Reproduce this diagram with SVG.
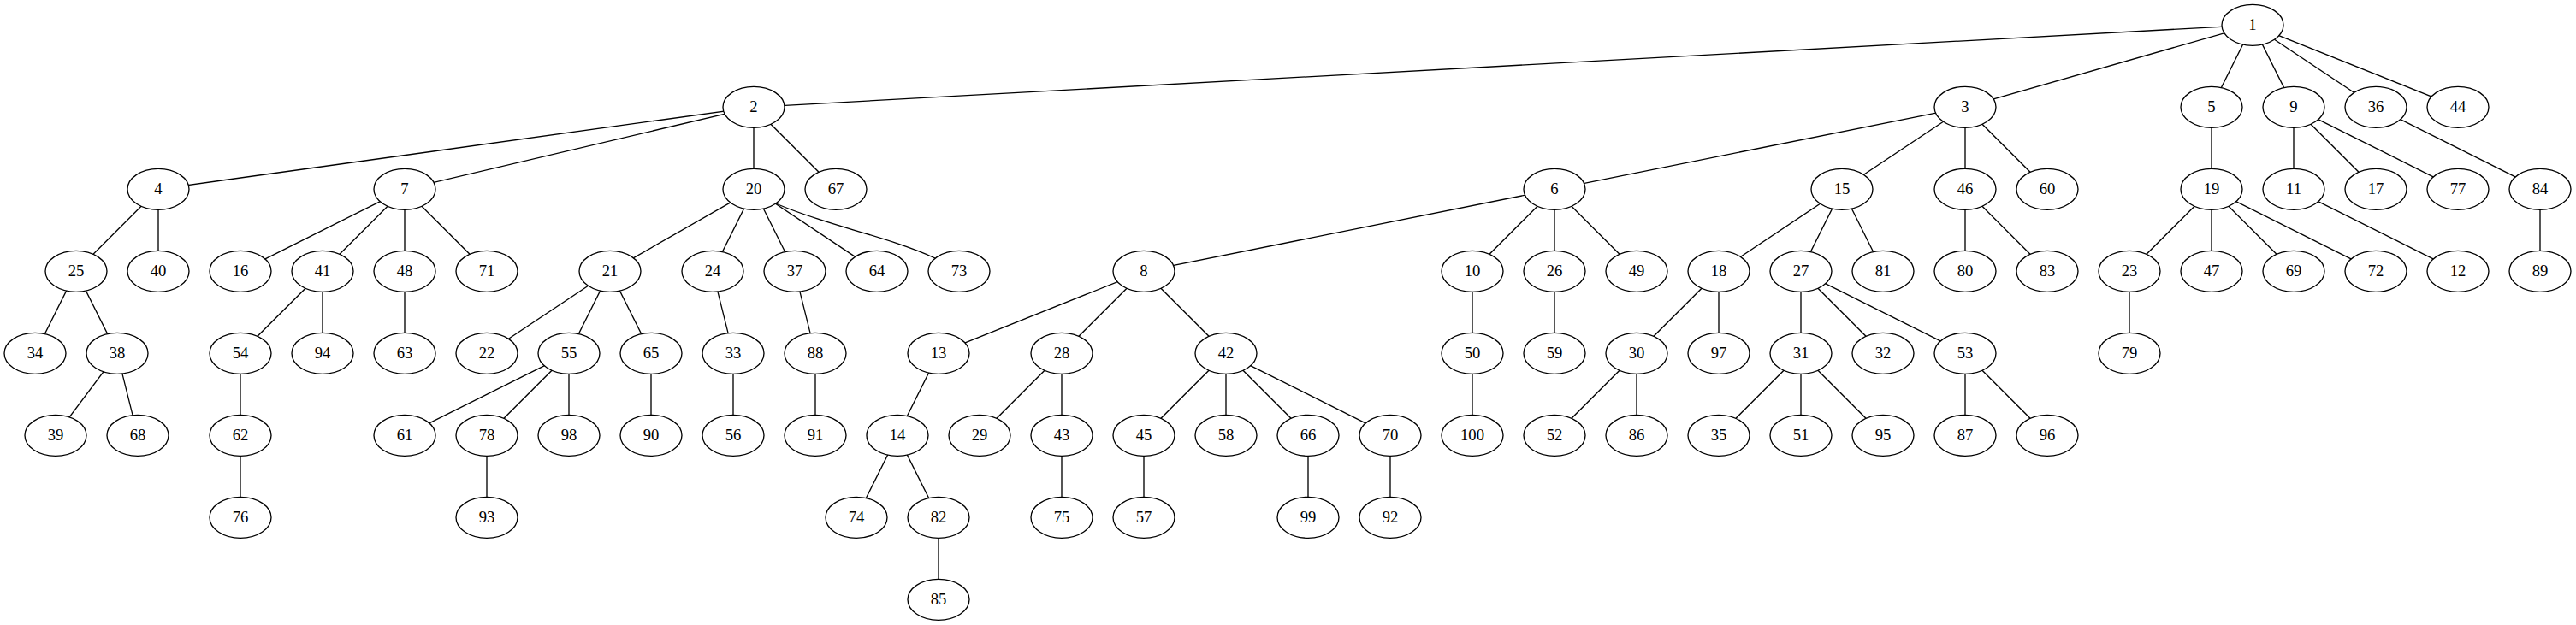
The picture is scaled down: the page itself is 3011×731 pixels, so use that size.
<svg xmlns="http://www.w3.org/2000/svg" width="3011" height="731" viewBox="0 0 3011 731">
<style>
.node ellipse{fill:#fff;stroke:#000;stroke-width:1.33}
.node text{font-family:"Liberation Serif","Times New Roman",serif;font-size:18.67px;text-anchor:middle;fill:#000}
#edges line,#edges path{stroke:#000;stroke-width:1.33;fill:none}
</style>
<rect width="3011" height="731" fill="#fff"/>
<g id="edges">
<line x1="2633" y1="29.3" x2="881" y2="125.3"/>
<line x1="2633" y1="29.3" x2="2297" y2="125.3"/>
<line x1="2633" y1="29.3" x2="2585" y2="125.3"/>
<line x1="2633" y1="29.3" x2="2681" y2="125.3"/>
<line x1="2633" y1="29.3" x2="2777" y2="125.3"/>
<line x1="2633" y1="29.3" x2="2873" y2="125.3"/>
<line x1="881" y1="125.3" x2="185" y2="221.3"/>
<line x1="881" y1="125.3" x2="473" y2="221.3"/>
<line x1="881" y1="125.3" x2="881" y2="221.3"/>
<line x1="881" y1="125.3" x2="977" y2="221.3"/>
<line x1="2297" y1="125.3" x2="1817" y2="221.3"/>
<line x1="2297" y1="125.3" x2="2153" y2="221.3"/>
<line x1="2297" y1="125.3" x2="2297" y2="221.3"/>
<line x1="2297" y1="125.3" x2="2393" y2="221.3"/>
<line x1="2585" y1="125.3" x2="2585" y2="221.3"/>
<line x1="2681" y1="125.3" x2="2681" y2="221.3"/>
<line x1="2681" y1="125.3" x2="2777" y2="221.3"/>
<line x1="2681" y1="125.3" x2="2873" y2="221.3"/>
<line x1="2777" y1="125.3" x2="2969" y2="221.3"/>
<line x1="185" y1="221.3" x2="89" y2="317.3"/>
<line x1="185" y1="221.3" x2="185" y2="317.3"/>
<line x1="473" y1="221.3" x2="281" y2="317.3"/>
<line x1="473" y1="221.3" x2="377" y2="317.3"/>
<line x1="473" y1="221.3" x2="473" y2="317.3"/>
<line x1="473" y1="221.3" x2="569" y2="317.3"/>
<line x1="881" y1="221.3" x2="713" y2="317.3"/>
<line x1="881" y1="221.3" x2="833" y2="317.3"/>
<line x1="881" y1="221.3" x2="929" y2="317.3"/>
<line x1="881" y1="221.3" x2="1025" y2="317.3"/>
<path d="M907,238 C960,262 1040,277 1093,302"/>
<line x1="1817" y1="221.3" x2="1337" y2="317.3"/>
<line x1="1817" y1="221.3" x2="1721" y2="317.3"/>
<line x1="1817" y1="221.3" x2="1817" y2="317.3"/>
<line x1="1817" y1="221.3" x2="1913" y2="317.3"/>
<line x1="2153" y1="221.3" x2="2009" y2="317.3"/>
<line x1="2153" y1="221.3" x2="2105" y2="317.3"/>
<line x1="2153" y1="221.3" x2="2201" y2="317.3"/>
<line x1="2297" y1="221.3" x2="2297" y2="317.3"/>
<line x1="2297" y1="221.3" x2="2393" y2="317.3"/>
<line x1="2585" y1="221.3" x2="2489" y2="317.3"/>
<line x1="2585" y1="221.3" x2="2585" y2="317.3"/>
<line x1="2585" y1="221.3" x2="2681" y2="317.3"/>
<line x1="2585" y1="221.3" x2="2777" y2="317.3"/>
<line x1="2681" y1="221.3" x2="2873" y2="317.3"/>
<line x1="2969" y1="221.3" x2="2969" y2="317.3"/>
<line x1="89" y1="317.3" x2="41" y2="413.3"/>
<line x1="89" y1="317.3" x2="137" y2="413.3"/>
<line x1="377" y1="317.3" x2="281" y2="413.3"/>
<line x1="377" y1="317.3" x2="377" y2="413.3"/>
<line x1="473" y1="317.3" x2="473" y2="413.3"/>
<line x1="713" y1="317.3" x2="569" y2="413.3"/>
<line x1="713" y1="317.3" x2="665" y2="413.3"/>
<line x1="713" y1="317.3" x2="761" y2="413.3"/>
<line x1="833" y1="317.3" x2="857" y2="413.3"/>
<line x1="929" y1="317.3" x2="953" y2="413.3"/>
<line x1="1337" y1="317.3" x2="1097" y2="413.3"/>
<line x1="1337" y1="317.3" x2="1241" y2="413.3"/>
<line x1="1337" y1="317.3" x2="1433" y2="413.3"/>
<line x1="1721" y1="317.3" x2="1721" y2="413.3"/>
<line x1="1817" y1="317.3" x2="1817" y2="413.3"/>
<line x1="2009" y1="317.3" x2="1913" y2="413.3"/>
<line x1="2009" y1="317.3" x2="2009" y2="413.3"/>
<line x1="2105" y1="317.3" x2="2105" y2="413.3"/>
<line x1="2105" y1="317.3" x2="2201" y2="413.3"/>
<line x1="2105" y1="317.3" x2="2297" y2="413.3"/>
<line x1="2489" y1="317.3" x2="2489" y2="413.3"/>
<line x1="137" y1="413.3" x2="65" y2="509.3"/>
<line x1="137" y1="413.3" x2="161" y2="509.3"/>
<line x1="281" y1="413.3" x2="281" y2="509.3"/>
<line x1="665" y1="413.3" x2="473" y2="509.3"/>
<line x1="665" y1="413.3" x2="569" y2="509.3"/>
<line x1="665" y1="413.3" x2="665" y2="509.3"/>
<line x1="761" y1="413.3" x2="761" y2="509.3"/>
<line x1="857" y1="413.3" x2="857" y2="509.3"/>
<line x1="953" y1="413.3" x2="953" y2="509.3"/>
<line x1="1097" y1="413.3" x2="1049" y2="509.3"/>
<line x1="1241" y1="413.3" x2="1145" y2="509.3"/>
<line x1="1241" y1="413.3" x2="1241" y2="509.3"/>
<line x1="1433" y1="413.3" x2="1337" y2="509.3"/>
<line x1="1433" y1="413.3" x2="1433" y2="509.3"/>
<line x1="1433" y1="413.3" x2="1529" y2="509.3"/>
<line x1="1433" y1="413.3" x2="1625" y2="509.3"/>
<line x1="1721" y1="413.3" x2="1721" y2="509.3"/>
<line x1="1913" y1="413.3" x2="1817" y2="509.3"/>
<line x1="1913" y1="413.3" x2="1913" y2="509.3"/>
<line x1="2105" y1="413.3" x2="2009" y2="509.3"/>
<line x1="2105" y1="413.3" x2="2105" y2="509.3"/>
<line x1="2105" y1="413.3" x2="2201" y2="509.3"/>
<line x1="2297" y1="413.3" x2="2297" y2="509.3"/>
<line x1="2297" y1="413.3" x2="2393" y2="509.3"/>
<line x1="281" y1="509.3" x2="281" y2="605.3"/>
<line x1="569" y1="509.3" x2="569" y2="605.3"/>
<line x1="1049" y1="509.3" x2="1001" y2="605.3"/>
<line x1="1049" y1="509.3" x2="1097" y2="605.3"/>
<line x1="1241" y1="509.3" x2="1241" y2="605.3"/>
<line x1="1337" y1="509.3" x2="1337" y2="605.3"/>
<line x1="1529" y1="509.3" x2="1529" y2="605.3"/>
<line x1="1625" y1="509.3" x2="1625" y2="605.3"/>
<line x1="1097" y1="605.3" x2="1097" y2="701.3"/>
</g>
<g id="n1" class="node"><ellipse cx="2633" cy="29.3" rx="36" ry="24"/><text x="2633" y="35">1</text></g>
<g id="n2" class="node"><ellipse cx="881" cy="125.3" rx="36" ry="24"/><text x="881" y="131">2</text></g>
<g id="n3" class="node"><ellipse cx="2297" cy="125.3" rx="36" ry="24"/><text x="2297" y="131">3</text></g>
<g id="n5" class="node"><ellipse cx="2585" cy="125.3" rx="36" ry="24"/><text x="2585" y="131">5</text></g>
<g id="n9" class="node"><ellipse cx="2681" cy="125.3" rx="36" ry="24"/><text x="2681" y="131">9</text></g>
<g id="n36" class="node"><ellipse cx="2777" cy="125.3" rx="36" ry="24"/><text x="2777" y="131">36</text></g>
<g id="n44" class="node"><ellipse cx="2873" cy="125.3" rx="36" ry="24"/><text x="2873" y="131">44</text></g>
<g id="n4" class="node"><ellipse cx="185" cy="221.3" rx="36" ry="24"/><text x="185" y="227">4</text></g>
<g id="n7" class="node"><ellipse cx="473" cy="221.3" rx="36" ry="24"/><text x="473" y="227">7</text></g>
<g id="n20" class="node"><ellipse cx="881" cy="221.3" rx="36" ry="24"/><text x="881" y="227">20</text></g>
<g id="n67" class="node"><ellipse cx="977" cy="221.3" rx="36" ry="24"/><text x="977" y="227">67</text></g>
<g id="n6" class="node"><ellipse cx="1817" cy="221.3" rx="36" ry="24"/><text x="1817" y="227">6</text></g>
<g id="n15" class="node"><ellipse cx="2153" cy="221.3" rx="36" ry="24"/><text x="2153" y="227">15</text></g>
<g id="n46" class="node"><ellipse cx="2297" cy="221.3" rx="36" ry="24"/><text x="2297" y="227">46</text></g>
<g id="n60" class="node"><ellipse cx="2393" cy="221.3" rx="36" ry="24"/><text x="2393" y="227">60</text></g>
<g id="n19" class="node"><ellipse cx="2585" cy="221.3" rx="36" ry="24"/><text x="2585" y="227">19</text></g>
<g id="n11" class="node"><ellipse cx="2681" cy="221.3" rx="36" ry="24"/><text x="2681" y="227">11</text></g>
<g id="n17" class="node"><ellipse cx="2777" cy="221.3" rx="36" ry="24"/><text x="2777" y="227">17</text></g>
<g id="n77" class="node"><ellipse cx="2873" cy="221.3" rx="36" ry="24"/><text x="2873" y="227">77</text></g>
<g id="n84" class="node"><ellipse cx="2969" cy="221.3" rx="36" ry="24"/><text x="2969" y="227">84</text></g>
<g id="n25" class="node"><ellipse cx="89" cy="317.3" rx="36" ry="24"/><text x="89" y="323">25</text></g>
<g id="n40" class="node"><ellipse cx="185" cy="317.3" rx="36" ry="24"/><text x="185" y="323">40</text></g>
<g id="n16" class="node"><ellipse cx="281" cy="317.3" rx="36" ry="24"/><text x="281" y="323">16</text></g>
<g id="n41" class="node"><ellipse cx="377" cy="317.3" rx="36" ry="24"/><text x="377" y="323">41</text></g>
<g id="n48" class="node"><ellipse cx="473" cy="317.3" rx="36" ry="24"/><text x="473" y="323">48</text></g>
<g id="n71" class="node"><ellipse cx="569" cy="317.3" rx="36" ry="24"/><text x="569" y="323">71</text></g>
<g id="n21" class="node"><ellipse cx="713" cy="317.3" rx="36" ry="24"/><text x="713" y="323">21</text></g>
<g id="n24" class="node"><ellipse cx="833" cy="317.3" rx="36" ry="24"/><text x="833" y="323">24</text></g>
<g id="n37" class="node"><ellipse cx="929" cy="317.3" rx="36" ry="24"/><text x="929" y="323">37</text></g>
<g id="n64" class="node"><ellipse cx="1025" cy="317.3" rx="36" ry="24"/><text x="1025" y="323">64</text></g>
<g id="n73" class="node"><ellipse cx="1121" cy="317.3" rx="36" ry="24"/><text x="1121" y="323">73</text></g>
<g id="n8" class="node"><ellipse cx="1337" cy="317.3" rx="36" ry="24"/><text x="1337" y="323">8</text></g>
<g id="n10" class="node"><ellipse cx="1721" cy="317.3" rx="36" ry="24"/><text x="1721" y="323">10</text></g>
<g id="n26" class="node"><ellipse cx="1817" cy="317.3" rx="36" ry="24"/><text x="1817" y="323">26</text></g>
<g id="n49" class="node"><ellipse cx="1913" cy="317.3" rx="36" ry="24"/><text x="1913" y="323">49</text></g>
<g id="n18" class="node"><ellipse cx="2009" cy="317.3" rx="36" ry="24"/><text x="2009" y="323">18</text></g>
<g id="n27" class="node"><ellipse cx="2105" cy="317.3" rx="36" ry="24"/><text x="2105" y="323">27</text></g>
<g id="n81" class="node"><ellipse cx="2201" cy="317.3" rx="36" ry="24"/><text x="2201" y="323">81</text></g>
<g id="n80" class="node"><ellipse cx="2297" cy="317.3" rx="36" ry="24"/><text x="2297" y="323">80</text></g>
<g id="n83" class="node"><ellipse cx="2393" cy="317.3" rx="36" ry="24"/><text x="2393" y="323">83</text></g>
<g id="n23" class="node"><ellipse cx="2489" cy="317.3" rx="36" ry="24"/><text x="2489" y="323">23</text></g>
<g id="n47" class="node"><ellipse cx="2585" cy="317.3" rx="36" ry="24"/><text x="2585" y="323">47</text></g>
<g id="n69" class="node"><ellipse cx="2681" cy="317.3" rx="36" ry="24"/><text x="2681" y="323">69</text></g>
<g id="n72" class="node"><ellipse cx="2777" cy="317.3" rx="36" ry="24"/><text x="2777" y="323">72</text></g>
<g id="n12" class="node"><ellipse cx="2873" cy="317.3" rx="36" ry="24"/><text x="2873" y="323">12</text></g>
<g id="n89" class="node"><ellipse cx="2969" cy="317.3" rx="36" ry="24"/><text x="2969" y="323">89</text></g>
<g id="n34" class="node"><ellipse cx="41" cy="413.3" rx="36" ry="24"/><text x="41" y="419">34</text></g>
<g id="n38" class="node"><ellipse cx="137" cy="413.3" rx="36" ry="24"/><text x="137" y="419">38</text></g>
<g id="n54" class="node"><ellipse cx="281" cy="413.3" rx="36" ry="24"/><text x="281" y="419">54</text></g>
<g id="n94" class="node"><ellipse cx="377" cy="413.3" rx="36" ry="24"/><text x="377" y="419">94</text></g>
<g id="n63" class="node"><ellipse cx="473" cy="413.3" rx="36" ry="24"/><text x="473" y="419">63</text></g>
<g id="n22" class="node"><ellipse cx="569" cy="413.3" rx="36" ry="24"/><text x="569" y="419">22</text></g>
<g id="n55" class="node"><ellipse cx="665" cy="413.3" rx="36" ry="24"/><text x="665" y="419">55</text></g>
<g id="n65" class="node"><ellipse cx="761" cy="413.3" rx="36" ry="24"/><text x="761" y="419">65</text></g>
<g id="n33" class="node"><ellipse cx="857" cy="413.3" rx="36" ry="24"/><text x="857" y="419">33</text></g>
<g id="n88" class="node"><ellipse cx="953" cy="413.3" rx="36" ry="24"/><text x="953" y="419">88</text></g>
<g id="n13" class="node"><ellipse cx="1097" cy="413.3" rx="36" ry="24"/><text x="1097" y="419">13</text></g>
<g id="n28" class="node"><ellipse cx="1241" cy="413.3" rx="36" ry="24"/><text x="1241" y="419">28</text></g>
<g id="n42" class="node"><ellipse cx="1433" cy="413.3" rx="36" ry="24"/><text x="1433" y="419">42</text></g>
<g id="n50" class="node"><ellipse cx="1721" cy="413.3" rx="36" ry="24"/><text x="1721" y="419">50</text></g>
<g id="n59" class="node"><ellipse cx="1817" cy="413.3" rx="36" ry="24"/><text x="1817" y="419">59</text></g>
<g id="n30" class="node"><ellipse cx="1913" cy="413.3" rx="36" ry="24"/><text x="1913" y="419">30</text></g>
<g id="n97" class="node"><ellipse cx="2009" cy="413.3" rx="36" ry="24"/><text x="2009" y="419">97</text></g>
<g id="n31" class="node"><ellipse cx="2105" cy="413.3" rx="36" ry="24"/><text x="2105" y="419">31</text></g>
<g id="n32" class="node"><ellipse cx="2201" cy="413.3" rx="36" ry="24"/><text x="2201" y="419">32</text></g>
<g id="n53" class="node"><ellipse cx="2297" cy="413.3" rx="36" ry="24"/><text x="2297" y="419">53</text></g>
<g id="n79" class="node"><ellipse cx="2489" cy="413.3" rx="36" ry="24"/><text x="2489" y="419">79</text></g>
<g id="n39" class="node"><ellipse cx="65" cy="509.3" rx="36" ry="24"/><text x="65" y="515">39</text></g>
<g id="n68" class="node"><ellipse cx="161" cy="509.3" rx="36" ry="24"/><text x="161" y="515">68</text></g>
<g id="n62" class="node"><ellipse cx="281" cy="509.3" rx="36" ry="24"/><text x="281" y="515">62</text></g>
<g id="n61" class="node"><ellipse cx="473" cy="509.3" rx="36" ry="24"/><text x="473" y="515">61</text></g>
<g id="n78" class="node"><ellipse cx="569" cy="509.3" rx="36" ry="24"/><text x="569" y="515">78</text></g>
<g id="n98" class="node"><ellipse cx="665" cy="509.3" rx="36" ry="24"/><text x="665" y="515">98</text></g>
<g id="n90" class="node"><ellipse cx="761" cy="509.3" rx="36" ry="24"/><text x="761" y="515">90</text></g>
<g id="n56" class="node"><ellipse cx="857" cy="509.3" rx="36" ry="24"/><text x="857" y="515">56</text></g>
<g id="n91" class="node"><ellipse cx="953" cy="509.3" rx="36" ry="24"/><text x="953" y="515">91</text></g>
<g id="n14" class="node"><ellipse cx="1049" cy="509.3" rx="36" ry="24"/><text x="1049" y="515">14</text></g>
<g id="n29" class="node"><ellipse cx="1145" cy="509.3" rx="36" ry="24"/><text x="1145" y="515">29</text></g>
<g id="n43" class="node"><ellipse cx="1241" cy="509.3" rx="36" ry="24"/><text x="1241" y="515">43</text></g>
<g id="n45" class="node"><ellipse cx="1337" cy="509.3" rx="36" ry="24"/><text x="1337" y="515">45</text></g>
<g id="n58" class="node"><ellipse cx="1433" cy="509.3" rx="36" ry="24"/><text x="1433" y="515">58</text></g>
<g id="n66" class="node"><ellipse cx="1529" cy="509.3" rx="36" ry="24"/><text x="1529" y="515">66</text></g>
<g id="n70" class="node"><ellipse cx="1625" cy="509.3" rx="36" ry="24"/><text x="1625" y="515">70</text></g>
<g id="n100" class="node"><ellipse cx="1721" cy="509.3" rx="36" ry="24"/><text x="1721" y="515">100</text></g>
<g id="n52" class="node"><ellipse cx="1817" cy="509.3" rx="36" ry="24"/><text x="1817" y="515">52</text></g>
<g id="n86" class="node"><ellipse cx="1913" cy="509.3" rx="36" ry="24"/><text x="1913" y="515">86</text></g>
<g id="n35" class="node"><ellipse cx="2009" cy="509.3" rx="36" ry="24"/><text x="2009" y="515">35</text></g>
<g id="n51" class="node"><ellipse cx="2105" cy="509.3" rx="36" ry="24"/><text x="2105" y="515">51</text></g>
<g id="n95" class="node"><ellipse cx="2201" cy="509.3" rx="36" ry="24"/><text x="2201" y="515">95</text></g>
<g id="n87" class="node"><ellipse cx="2297" cy="509.3" rx="36" ry="24"/><text x="2297" y="515">87</text></g>
<g id="n96" class="node"><ellipse cx="2393" cy="509.3" rx="36" ry="24"/><text x="2393" y="515">96</text></g>
<g id="n76" class="node"><ellipse cx="281" cy="605.3" rx="36" ry="24"/><text x="281" y="611">76</text></g>
<g id="n93" class="node"><ellipse cx="569" cy="605.3" rx="36" ry="24"/><text x="569" y="611">93</text></g>
<g id="n74" class="node"><ellipse cx="1001" cy="605.3" rx="36" ry="24"/><text x="1001" y="611">74</text></g>
<g id="n82" class="node"><ellipse cx="1097" cy="605.3" rx="36" ry="24"/><text x="1097" y="611">82</text></g>
<g id="n75" class="node"><ellipse cx="1241" cy="605.3" rx="36" ry="24"/><text x="1241" y="611">75</text></g>
<g id="n57" class="node"><ellipse cx="1337" cy="605.3" rx="36" ry="24"/><text x="1337" y="611">57</text></g>
<g id="n99" class="node"><ellipse cx="1529" cy="605.3" rx="36" ry="24"/><text x="1529" y="611">99</text></g>
<g id="n92" class="node"><ellipse cx="1625" cy="605.3" rx="36" ry="24"/><text x="1625" y="611">92</text></g>
<g id="n85" class="node"><ellipse cx="1097" cy="701.3" rx="36" ry="24"/><text x="1097" y="707">85</text></g>
</svg>
